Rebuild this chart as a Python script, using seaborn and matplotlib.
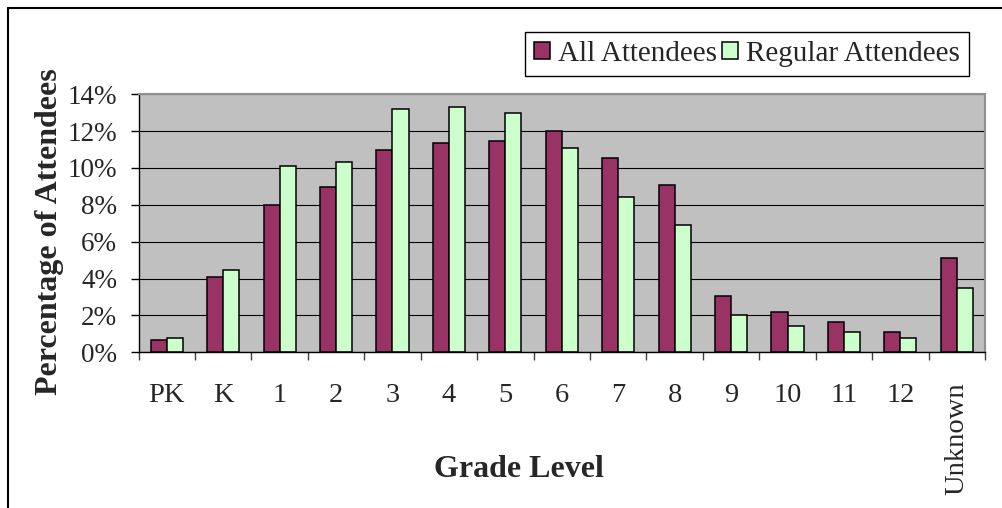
import matplotlib
matplotlib.use("Agg")
import numpy as np
import pandas as pd
import matplotlib.pyplot as plt
import seaborn as sns
from matplotlib.ticker import FuncFormatter, FixedLocator
from matplotlib.lines import Line2D

# Share of attendees by grade level (percent)
grades = ["PK", "K", "1", "2", "3", "4", "5", "6", "7", "8", "9", "10", "11", "12", "Unknown"]
all_attendees = [0.66, 4.10, 8.00, 8.95, 11.00, 11.35, 11.45, 12.00, 10.55, 9.05, 3.05, 2.20, 1.63, 1.08, 5.13]
regular_attendees = [0.75, 4.45, 10.10, 10.35, 13.20, 13.30, 13.00, 11.10, 8.40, 6.90, 2.05, 1.43, 1.10, 0.77, 3.49]
series_names = ["All Attendees", "Regular Attendees"]
series_colors = ["#993366", "#CCFFCC"]
y_ticks = [0, 2, 4, 6, 8, 10, 12, 14]

sns.set_style("white")
plt.rcParams["font.family"] = ["Liberation Serif", "DejaVu Serif"]

df = pd.DataFrame({
    "Grade": grades * 2,
    "Percent": all_attendees + regular_attendees,
    "Group": [series_names[0]] * len(grades) + [series_names[1]] * len(grades),
})

fig = plt.figure(figsize=(10.03, 5.08), dpi=100)
fig.patch.set_facecolor("white")
ax = fig.add_axes([0.1381, 0.3065, 0.844, 0.508])

sns.barplot(data=df, x="Grade", y="Percent", hue="Group", order=grades,
            hue_order=series_names, palette=series_colors, width=0.57,
            edgecolor="black", linewidth=1.1, saturation=1, errorbar=None, ax=ax)

ax.set_facecolor("#C0C0C0")
ax.set_xlim(-0.5, len(grades) - 0.5)
ax.set_ylim(y_ticks[0], y_ticks[-1])
ax.yaxis.set_major_locator(FixedLocator(y_ticks))
ax.yaxis.set_major_formatter(FuncFormatter(lambda v, p: f"{v:.0f}%"))
ax.grid(axis="y", color="black", linewidth=0.8)
ax.grid(axis="x", visible=False)
ax.set_axisbelow(True)

for side in ("left", "bottom"):
    ax.spines[side].set_color("black")
    ax.spines[side].set_linewidth(1.0)
for side in ("top", "right"):
    ax.spines[side].set_color("#909090")
    ax.spines[side].set_linewidth(1.5)

ax.tick_params(axis="y", direction="out", length=5.8, width=1, pad=9.5,
               labelsize=19.5, color="black", left=True)
ax.tick_params(axis="x", which="major", length=0, pad=22, labelsize=20.5)
ax.xaxis.set_minor_locator(FixedLocator(np.arange(len(grades) + 1) - 0.5))
ax.tick_params(axis="x", which="minor", direction="out", length=5.8, width=1,
               color="#404040", bottom=True)
ax.get_xticklabels()[-1].set_rotation(90)

ax.set_xlabel("Grade Level", fontsize=23, fontweight="bold")
ax.xaxis.label.set_va("center")
ax.xaxis.set_label_coords(0.449, -0.456)
ax.set_ylabel("Percentage of Attendees", fontsize=23, fontweight="bold")
ax.yaxis.label.set_va("center")
ax.yaxis.set_label_coords(-0.1057, 0.467)

handles = ax.get_legend().legend_handles
ax.get_legend().remove()
leg = ax.legend(handles, series_names, loc="upper right",
                bbox_to_anchor=(969 / 1003, 1 - 32 / 508),
                bbox_transform=fig.transFigure, ncol=2, fontsize=21,
                frameon=True, fancybox=False, framealpha=1, edgecolor="black",
                borderpad=0.3, borderaxespad=0, handlelength=0.55,
                handleheight=0.52, handletextpad=0.27, columnspacing=0.2)
leg.get_frame().set_linewidth(1.0)
for h in leg.legend_handles:
    h.set_edgecolor("black")
    h.set_linewidth(1.1)

# outer chart border
fig.add_artist(Line2D([8 / 1003, 8 / 1003], [0, 1 - 8 / 508], transform=fig.transFigure,
                      color="black", linewidth=1.5))
fig.add_artist(Line2D([8 / 1003, 1], [1 - 8 / 508, 1 - 8 / 508], transform=fig.transFigure,
                      color="black", linewidth=1.5))

fig.savefig("out.png", dpi=100)
